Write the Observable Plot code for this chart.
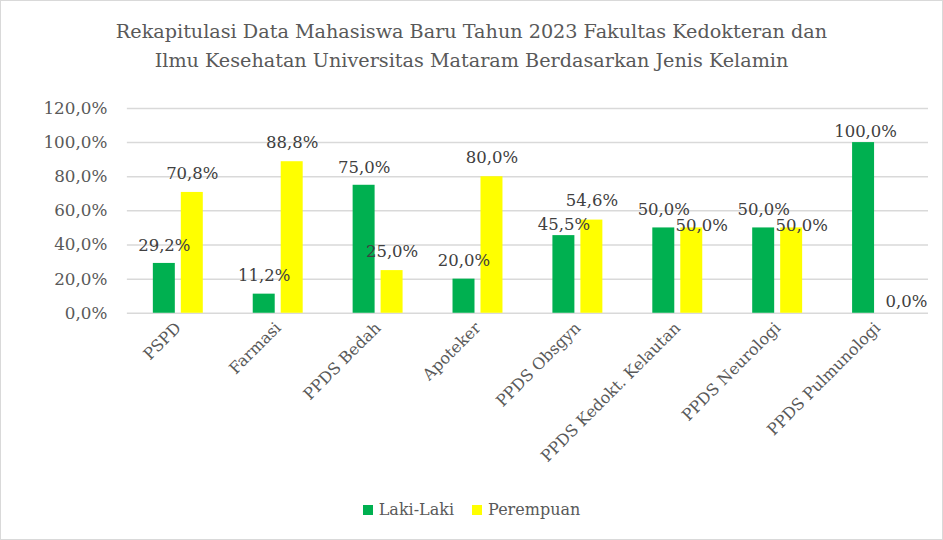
<!DOCTYPE html>
<html><head><meta charset="utf-8">
<script src="https://cdn.jsdelivr.net/npm/d3@7"></script>
<script src="https://cdn.jsdelivr.net/npm/@observablehq/plot@0.6"></script>
<style>
body{margin:0;background:#fff;}
#chart{position:relative;width:941px;height:538px;border:1px solid #d9d9d9;font-family:"DejaVu Serif",serif;color:#595959;overflow:hidden;background:#fff}
#title{position:absolute;left:0;top:16px;width:100%;text-align:center;font-size:19.2px;line-height:29px;}
#plot{position:absolute;left:-1px;top:89px;}
#legend{position:absolute;left:0;top:499px;width:100%;display:flex;justify-content:center;align-items:center;font-size:16px;line-height:20px;}
.item{display:flex;align-items:center;margin:0 9px;}
.sw{width:10px;height:10px;margin-right:6px;}
</style>
</head><body>
<div id="chart">
  <div id="title">Rekapitulasi Data Mahasiswa Baru Tahun 2023 Fakultas Kedokteran dan<br>Ilmu Kesehatan Universitas Mataram Berdasarkan Jenis Kelamin</div>
  <div id="plot"></div>
  <div id="legend"></div>
</div>
<script>
const categories = ["PSPD","Farmasi","PPDS Bedah","Apoteker","PPDS Obsgyn","PPDS Kedokt. Kelautan","PPDS Neurologi","PPDS Pulmunologi"];
const series = ["Laki-Laki","Perempuan"];
const lakiLaki = [29.2, 11.2, 75.0, 20.0, 45.5, 50.0, 50.0, 100.0];
const perempuan = [70.8, 88.8, 25.0, 80.0, 54.6, 50.0, 50.0, 0.0];
const yTicks = [0, 20, 40, 60, 80, 100, 120];
const colors = ["#00B050", "#FFFF00"];

const fmt = v => v.toFixed(1).replace(".", ",") + "%";
const rows = categories.map((c, i) => ({category: c, laki: lakiLaki[i], perempuan: perempuan[i]}));

// label placement rules (like the reference's adjusted data labels)
const tie = d => Math.abs(d.laki - d.perempuan) < 1;
const near = d => !tie(d) && Math.abs(d.laki - d.perempuan) < 12;

const chart = Plot.plot({
  width: 943,
  height: 391,
  marginTop: 18,
  marginLeft: 127,
  marginRight: 14,
  marginBottom: 168,
  style: {fontFamily: "DejaVu Serif", color: "#595959", background: "transparent", overflow: "visible"},
  x: {domain: categories, padding: 0, label: null},
  y: {domain: [0, 120], label: null},
  marks: [
    Plot.gridY(yTicks, {stroke: "#d9d9d9", strokeOpacity: 1, strokeWidth: 1.5}),
    Plot.axisY(yTicks, {tickFormat: fmt, tickSize: 0, tickPadding: 20, fontSize: 16.8, label: null, fill: "#595959"}),
    Plot.barY(rows, {x: "category", y: "laki", fill: colors[0], insetLeft: 25, insetRight: 53}),
    Plot.barY(rows, {x: "category", y: "perempuan", fill: colors[1], insetLeft: 53, insetRight: 25}),
    // Laki-Laki labels
    Plot.text(rows.filter(d => !near(d) && d.laki < 100), {x: "category", y: "laki", text: d => fmt(d.laki), dx: -14, dy: -18, fontSize: 16.5, fill: "#404040"}),
    Plot.text(rows.filter(d => d.laki >= 100), {x: "category", y: "laki", text: d => fmt(d.laki), dx: -12, dy: -11, fontSize: 16.5, fill: "#404040"}),
    Plot.text(rows.filter(near), {x: "category", y: "laki", text: d => fmt(d.laki), dx: -14, dy: -11, fontSize: 16.5, fill: "#404040"}),
    // Perempuan labels
    Plot.text(rows.filter(d => !tie(d) && d.perempuan > 0), {x: "category", y: "perempuan", text: d => fmt(d.perempuan), dx: 14, dy: -19, fontSize: 16.5, fill: "#404040"}),
    Plot.text(rows.filter(tie), {x: "category", y: "perempuan", text: d => fmt(d.perempuan), dx: 24, dy: -2, fontSize: 16.5, fill: "#404040"}),
    Plot.text(rows.filter(d => d.perempuan === 0), {x: "category", y: "perempuan", text: d => fmt(d.perempuan), dx: 29, dy: -12, fontSize: 16.5, fill: "#404040"}),
    Plot.axisX({tickRotate: -45, tickSize: 0, tickPadding: 12, fontSize: 16, label: null, fill: "#595959"})
  ]
});
document.getElementById("plot").appendChild(chart);

const legend = document.getElementById("legend");
series.forEach((s, i) => {
  const it = document.createElement("div");
  it.className = "item";
  it.innerHTML = `<span class="sw" style="background:${colors[i]}"></span><span>${s}</span>`;
  legend.appendChild(it);
});
</script>
</body></html>
